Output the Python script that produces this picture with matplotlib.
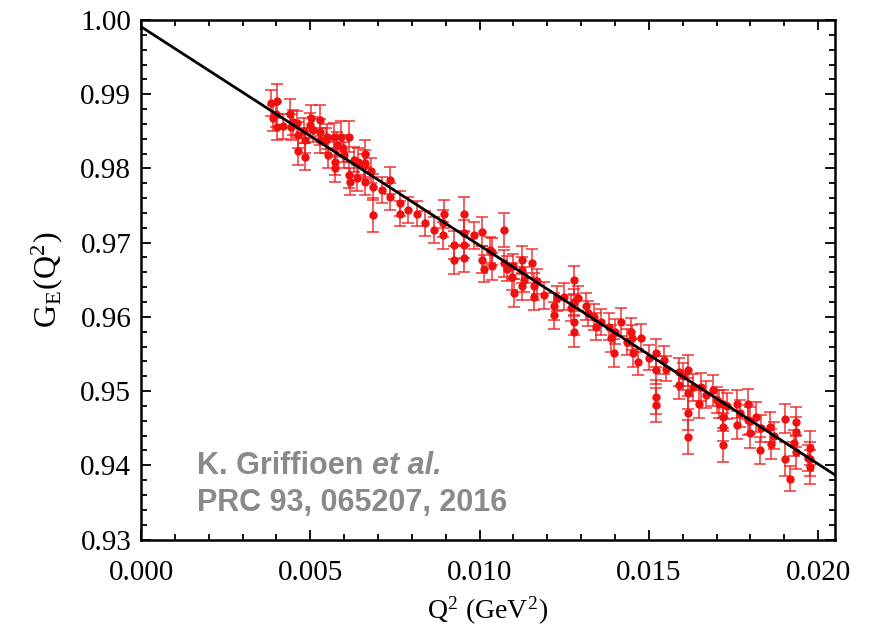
import matplotlib
matplotlib.use("Agg")
import matplotlib.pyplot as plt
from matplotlib.ticker import MultipleLocator, FormatStrFormatter

# Q^2 (GeV^2), G_E and uncertainty
q2 = [0.00385, 0.00390, 0.00400, 0.00402, 0.00402, 0.00420, 0.00439, 0.00443, 0.00450, 0.00462,
      0.00464, 0.00464, 0.00480, 0.00484, 0.00484, 0.00500, 0.00503, 0.00508, 0.00528, 0.00528,
      0.00530, 0.00547, 0.00550, 0.00552, 0.00570, 0.00572, 0.00572, 0.00580, 0.00592, 0.00597,
      0.00600, 0.00614, 0.00614, 0.00617, 0.00630, 0.00637, 0.00642, 0.00660, 0.00662, 0.00662,
      0.00662, 0.00680, 0.00686, 0.00686, 0.00711, 0.00736, 0.00736, 0.00765, 0.00765, 0.00790,
      0.00814, 0.00839, 0.00864, 0.00893, 0.00893, 0.00894, 0.00924, 0.00924, 0.00953, 0.00953,
      0.00953, 0.00953, 0.00983, 0.01007, 0.01007, 0.01012, 0.01030, 0.01037, 0.01037, 0.01071,
      0.01071, 0.01080, 0.01096, 0.01100, 0.01101, 0.01126, 0.01126, 0.01126, 0.01130, 0.01155,
      0.01160, 0.01160, 0.01170, 0.01190, 0.01220, 0.01220, 0.01230, 0.01250, 0.01270, 0.01279,
      0.01279, 0.01279, 0.01279, 0.01290, 0.01314, 0.01320, 0.01338, 0.01343, 0.01360, 0.01383,
      0.01388, 0.01397, 0.01400, 0.01417, 0.01437, 0.01448, 0.01450, 0.01453, 0.01467, 0.01477,
      0.01500, 0.01521, 0.01521, 0.01521, 0.01521, 0.01546, 0.01550, 0.01590, 0.01590, 0.01600,
      0.01615, 0.01615, 0.01615, 0.01615, 0.01630, 0.01649, 0.01654, 0.01670, 0.01689, 0.01700,
      0.01708, 0.01719, 0.01719, 0.01719, 0.01719, 0.01730, 0.01759, 0.01759, 0.01770, 0.01793,
      0.01793, 0.01798, 0.01800, 0.01818, 0.01828, 0.01830, 0.01857, 0.01862, 0.01870, 0.01902,
      0.01902, 0.01916, 0.01930, 0.01936, 0.01936, 0.01936, 0.01970, 0.01975, 0.01975, 0.01975]
ge = [0.9888, 0.9868, 0.9873, 0.9891, 0.9856, 0.9857, 0.9874, 0.9856, 0.9862, 0.9861,
      0.9845, 0.9823, 0.9851, 0.9838, 0.9816, 0.9858, 0.9868, 0.9852, 0.9865, 0.9849,
      0.9838, 0.9838, 0.9843, 0.9818, 0.9843, 0.9809, 0.9800, 0.9832, 0.9843, 0.9827,
      0.9818, 0.9843, 0.9791, 0.9782, 0.9812, 0.9787, 0.9809, 0.9803, 0.9820, 0.9807,
      0.9782, 0.9797, 0.9775, 0.9737, 0.9771, 0.9784, 0.9762, 0.9753, 0.9739, 0.9744,
      0.9739, 0.9726, 0.9717, 0.9726, 0.9710, 0.9739, 0.9697, 0.9677, 0.9739, 0.9713,
      0.9697, 0.9679, 0.9710, 0.9715, 0.9677, 0.9665, 0.9690, 0.9688, 0.9668, 0.9717,
      0.9672, 0.9665, 0.9654, 0.9668, 0.9632, 0.9677, 0.9663, 0.9641, 0.9650, 0.9672,
      0.9641, 0.9627, 0.9648, 0.9629, 0.9614, 0.9602, 0.9625, 0.9627, 0.9612, 0.9650,
      0.9620, 0.9593, 0.9580, 0.9625, 0.9614, 0.9605, 0.9600, 0.9587, 0.9593, 0.9587,
      0.9571, 0.9551, 0.9580, 0.9593, 0.9566, 0.9580, 0.9572, 0.9551, 0.9539, 0.9571,
      0.9545, 0.9551, 0.9528, 0.9492, 0.9481, 0.9542, 0.9530, 0.9526, 0.9508, 0.9520,
      0.9528, 0.9497, 0.9470, 0.9438, 0.9505, 0.9483, 0.9506, 0.9495, 0.9501, 0.9488,
      0.9483, 0.9483, 0.9465, 0.9452, 0.9427, 0.9480, 0.9483, 0.9454, 0.9470, 0.9483,
      0.9461, 0.9443, 0.9460, 0.9465, 0.9420, 0.9450, 0.9452, 0.9429, 0.9440, 0.9463,
      0.9409, 0.9382, 0.9430, 0.9459, 0.9445, 0.9418, 0.9410, 0.9423, 0.9409, 0.9398]
err = [0.0018, 0.0017, 0.0017, 0.0023, 0.0018, 0.0017, 0.0019, 0.0018, 0.0017, 0.0017,
       0.0018, 0.0018, 0.0017, 0.0017, 0.0018, 0.0017, 0.0018, 0.0017, 0.0021, 0.0018,
       0.0017, 0.0017, 0.0017, 0.0018, 0.0018, 0.0018, 0.0018, 0.0017, 0.0021, 0.0018,
       0.0017, 0.0021, 0.0018, 0.0018, 0.0017, 0.0017, 0.0018, 0.0017, 0.0018, 0.0018,
       0.0018, 0.0017, 0.0018, 0.0023, 0.0018, 0.0018, 0.0018, 0.0017, 0.0017, 0.0017,
       0.0017, 0.0017, 0.0018, 0.0018, 0.0018, 0.0019, 0.0019, 0.0019, 0.0023, 0.0018,
       0.0018, 0.0018, 0.0018, 0.0019, 0.0018, 0.0018, 0.0017, 0.0018, 0.0018, 0.0023,
       0.0018, 0.0017, 0.0018, 0.0017, 0.0019, 0.0019, 0.0018, 0.0018, 0.0017, 0.0019,
       0.0018, 0.0018, 0.0017, 0.0018, 0.0018, 0.0018, 0.0017, 0.0018, 0.0017, 0.0019,
       0.0018, 0.0018, 0.0021, 0.0017, 0.0018, 0.0017, 0.0018, 0.0018, 0.0017, 0.0018,
       0.0018, 0.0019, 0.0017, 0.0019, 0.0018, 0.0019, 0.0017, 0.0019, 0.0018, 0.0019,
       0.0017, 0.0019, 0.0019, 0.0023, 0.0023, 0.0019, 0.0017, 0.0019, 0.0019, 0.0018,
       0.0021, 0.0021, 0.0023, 0.0023, 0.0018, 0.0019, 0.0019, 0.0018, 0.0021, 0.0018,
       0.0019, 0.0019, 0.0019, 0.0019, 0.0023, 0.0018, 0.0019, 0.0019, 0.0018, 0.0020,
       0.0020, 0.0020, 0.0018, 0.0020, 0.0018, 0.0018, 0.0020, 0.0020, 0.0018, 0.0020,
       0.0023, 0.0017, 0.0018, 0.0020, 0.0020, 0.0023, 0.0018, 0.0023, 0.0023, 0.0023]

# straight-line fit, end points
fit_q2 = [0.0, 0.0205]
fit_ge = [0.9991, 0.9387]

plt.rcParams["font.family"] = ["Liberation Serif", "DejaVu Serif"]
plt.rcParams["mathtext.fontset"] = "stix"

fig = plt.figure(figsize=(8.72, 6.33), dpi=100)
ax = fig.add_axes([0.1617, 0.1477, 0.7959, 0.8207])

ax.errorbar(q2, ge, yerr=err, fmt="o", color="#f01010", ms=5, mec="#f01010",
            ecolor=(0.94, 0.1, 0.1, 0.75), elinewidth=1.3, capsize=4, capthick=1.3, zorder=2)
ax.plot(fit_q2, fit_ge, color="black", lw=2, zorder=3)

ax.set_xlim(0, 0.0205)
ax.set_ylim(0.93, 1.00)
ax.xaxis.set_major_locator(MultipleLocator(0.005))
ax.xaxis.set_minor_locator(MultipleLocator(0.001))
ax.yaxis.set_major_locator(MultipleLocator(0.01))
ax.yaxis.set_minor_locator(MultipleLocator(0.002))
ax.xaxis.set_major_formatter(FormatStrFormatter("%.3f"))
ax.yaxis.set_major_formatter(FormatStrFormatter("%.2f"))
ax.tick_params(which="both", direction="in", top=True, right=True, width=1.3, labelsize=21)
ax.tick_params(which="major", length=7)
ax.tick_params(axis="x", which="major", pad=15)
ax.tick_params(axis="y", which="major", pad=7)
ax.tick_params(which="minor", length=4)
for s in ax.spines.values():
    s.set_linewidth(1.8)

ax.set_xlabel(r"Q$^\mathregular{2}$ (GeV$^\mathregular{2}$)", fontsize=20, labelpad=6)
ax.set_ylabel(r"G$_\mathregular{E}$(Q$^\mathregular{2}$)", fontsize=23, labelpad=10)

grey = "#8a8a8a"
fs = 22
ax.text(0.00165, 0.9388, "K. Griffioen ", fontsize=fs, weight="bold", color=grey,
        family="Liberation Sans", va="baseline")
ax.text(0.00165, 0.9338, "PRC 93, 065207, 2016", fontsize=fs, weight="bold", color=grey,
        family="Liberation Sans", va="baseline")
t = ax.text(0.00165, 0.9388, "K. Griffioen ", fontsize=fs, weight="bold", color="none",
            family="Liberation Sans", va="baseline")
fig.canvas.draw()
bb = t.get_window_extent().transformed(ax.transData.inverted())
ax.text(bb.x1, 0.9388, "et al.", fontsize=fs, weight="bold", style="italic", color=grey,
        family="Liberation Sans", va="baseline")

fig.savefig("out.png", dpi=100)
